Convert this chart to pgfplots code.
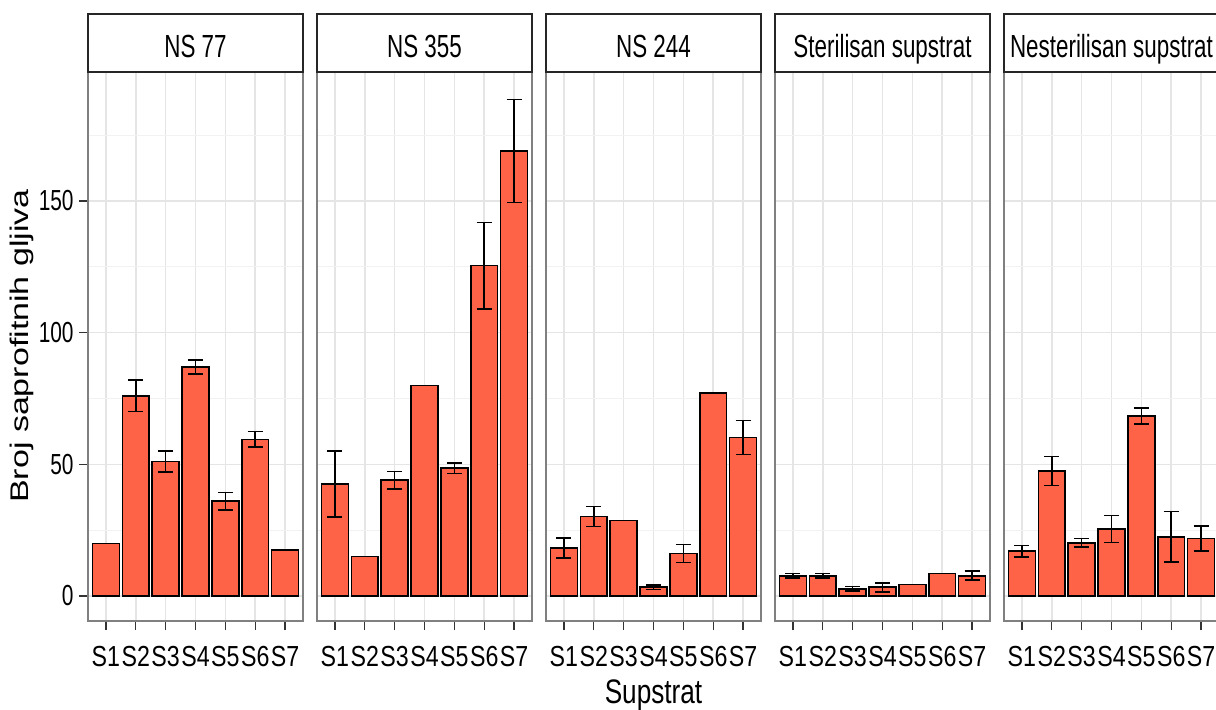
\documentclass[border=0pt]{standalone}
\usepackage{pgfplots}
\pgfplotsset{compat=1.18}
\usepackage{pgfplotstable}
\usepackage{fontspec}
\setmainfont{Liberation Sans}[FakeStretch=0.8]
\newfontfamily\yticks{Liberation Sans}[FakeStretch=0.72]
\newfontfamily\stripfont{Liberation Sans}[FakeStretch=0.7]
\newfontfamily\titlefont{Liberation Sans}[FakeStretch=0.77]
\newfontfamily\yfont{Liberation Sans}
\definecolor{tomato}{RGB}{255,99,71}

% mean and error for each substrate, one table per panel
\pgfplotstableread{
x y e
1 20 0
2 76 6
3 51 4
4 87 2.6
5 36 3.3
6 59.5 3
7 17.5 0
}\nsA
\pgfplotstableread{
x y e
1 42.5 12.5
2 15 0
3 44 3.3
4 80 0
5 48.5 2
6 125.5 16.4
7 169 19.5
}\nsB
\pgfplotstableread{
x y e
1 18.3 3.8
2 30.2 3.8
3 28.6 0
4 3.3 0.9
5 16.1 3.4
6 77 0
7 60.2 6.4
}\nsC
\pgfplotstableread{
x y e
1 7.7 0.9
2 7.7 0.9
3 2.7 0.9
4 3.3 1.7
5 4.4 0
6 8.5 0
7 7.7 1.7
}\ster
\pgfplotstableread{
x y e
1 17 2.2
2 47.5 5.5
3 20.2 1.7
4 25.4 5.1
5 68.3 3
6 22.5 9.6
7 21.8 4.7
}\nester

\pgfplotsset{
  panel/.style={
    scale only axis, width=107.5bp, height=274.5bp,
    xmin=0.4, xmax=7.6, ymin=-9.5, ymax=199,
    xtick={1,...,7}, xticklabels={S1,S2,S3,S4,S5,S6,S7},
    ytick={0,50,100,150}, minor ytick={25,75,125,175},
    xmajorgrids, ymajorgrids, yminorgrids,
    major grid style={black!10, line width=0.8bp},
    minor grid style={black!5, line width=0.5bp},
    xtick pos=bottom, ytick pos=left,
    tick align=outside, major tick length=4.5bp, minor tick length=0pt,
    tick style={black!80, line width=0.7bp},
    axis line style={black!50, line width=0.6bp},
    tick label style={font=\fontsize{14.5bp}{16bp}\selectfont},
    /pgf/number format/assume math mode=true,
    xticklabel style={anchor=base, inner sep=0pt, yshift=-18bp},
    yticklabel style={anchor=east, inner sep=0pt, xshift=-2.5bp,
      font=\yticks\fontsize{14.5bp}{16bp}\selectfont},
    clip=false, anchor=south west,
  },
  inner/.style={yticklabels={}, ytick style={draw=none}},
  bars/.style={ybar, bar width=0.9, fill=tomato, draw=black, line width=0.8bp,
    error bars/.cd, y dir=both, y explicit,
    error bar style={black, line width=0.8bp},
    error mark options={rotate=90, mark size=3.75bp, line width=0.8bp, black}},
}

\newcommand{\strip}[1]{%
  \draw[black!85, line width=0.7bp, fill=white] (rel axis cs:0,1) rectangle ([yshift=29bp]rel axis cs:1,1);
  \node[anchor=base, font=\stripfont\fontsize{16bp}{18bp}\selectfont] at ([yshift=7.25bp]rel axis cs:0.5,1) {#1};}

\begin{document}
\begin{tikzpicture}
\useasboundingbox (0,0) rectangle (608bp,355bp);

\begin{axis}[panel, at={(44bp,44.5bp)}]
\addplot[bars] table[x=x, y=y, y error=e] {\nsA};
\strip{NS 77}
\end{axis}

\begin{axis}[panel, inner, at={(158.5bp,44.5bp)}]
\addplot[bars] table[x=x, y=y, y error=e] {\nsB};
\strip{NS 355}
\end{axis}

\begin{axis}[panel, inner, at={(273bp,44.5bp)}]
\addplot[bars] table[x=x, y=y, y error=e] {\nsC};
\strip{NS 244}
\end{axis}

\begin{axis}[panel, inner, at={(387.5bp,44.5bp)}]
\addplot[bars] table[x=x, y=y, y error=e] {\ster};
\strip{Sterilisan supstrat}
\end{axis}

\begin{axis}[panel, inner, at={(502bp,44.5bp)}]
\addplot[bars] table[x=x, y=y, y error=e] {\nester};
\strip{Nesterilisan supstrat}
\end{axis}

\node[rotate=90, font=\yfont\fontsize{17bp}{19bp}\selectfont] at (11bp,182bp) {\scalebox{1}[0.75]{Broj saprofitnih gljiva}};
\node[anchor=base, font=\titlefont\fontsize{17bp}{19bp}\selectfont] at (326.75bp,3.5bp) {Supstrat};
\end{tikzpicture}
\end{document}
